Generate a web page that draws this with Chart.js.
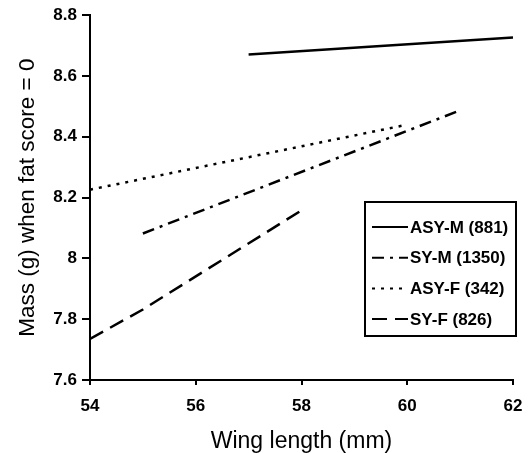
<!DOCTYPE html>
<html>
<head>
<meta charset="utf-8">
<script src="https://cdn.jsdelivr.net/npm/chart.js@4"></script>
<style>
  html, body { margin: 0; padding: 0; background: #fff; }
  #wrap { width: 530px; height: 453px; }
</style>
</head>
<body>
<div id="wrap"><canvas id="c" width="530" height="453"></canvas></div>
<script>
const seriesNames = ["ASY-M (881)", "SY-M (1350)", "ASY-F (342)", "SY-F (826)"];
const asyM = [{ x: 57, y: 8.671 }, { x: 62, y: 8.727 }];
const syM = [{ x: 55, y: 8.082 }, { x: 61, y: 8.487 }];
const asyF = [{ x: 54, y: 8.226 }, { x: 60, y: 8.44 }];
const syF = [{ x: 54, y: 7.735 }, { x: 55, y: 7.832 }, { x: 58, y: 8.158 }];
const xTicks = [54, 56, 58, 60, 62];
const yTicks = [7.6, 7.8, 8, 8.2, 8.4, 8.6, 8.8];

const dashes = [[], [12, 6, 3, 6], [3, 6], [15, 8]];
const FONT = "'Liberation Sans', Arial, sans-serif";

// legend box with a border, drawn on the canvas
const boxLegend = {
  id: "boxLegend",
  afterDraw(chart) {
    const ctx = chart.ctx;
    const x0 = 365, y0 = 202, w = 151, h = 134;
    ctx.save();
    ctx.fillStyle = "#fff";
    ctx.fillRect(x0, y0, w, h);
    ctx.strokeStyle = "#000";
    ctx.lineWidth = 2;
    ctx.strokeRect(x0, y0, w, h);
    ctx.font = "bold 17px " + FONT;
    ctx.textBaseline = "middle";
    ctx.fillStyle = "#000";
    chart.data.datasets.forEach((ds, i) => {
      const y = y0 + 25 + i * 30.7;
      ctx.setLineDash(ds.borderDash || []);
      ctx.lineWidth = 2;
      ctx.beginPath();
      ctx.moveTo(x0 + 7, y);
      ctx.lineTo(x0 + 43, y);
      ctx.stroke();
      ctx.setLineDash([]);
      ctx.fillText(ds.label, x0 + 45, y + 1);
    });
    ctx.restore();
  },
};

const datasets = [asyM, syM, asyF, syF].map((pts, i) => ({
  label: seriesNames[i],
  data: pts,
  borderColor: "#000",
  borderWidth: 2.5,
  borderDash: dashes[i],
  pointRadius: 0,
  fill: false,
  tension: 0,
}));

new Chart(document.getElementById("c"), {
  type: "line",
  data: { datasets },
  plugins: [boxLegend],
  options: {
    responsive: false,
    animation: false,
    layout: { padding: { left: 0, top: 15, right: 17, bottom: 0 } },
    plugins: { legend: { display: false }, tooltip: { enabled: false } },
    scales: {
      x: {
        type: "linear",
        min: 54,
        max: 62,
        afterBuildTicks: (s) => { s.ticks = xTicks.map((v) => ({ value: v })); },
        afterFit: (s) => { s.height = 73; s.paddingRight = 0; },
        grid: { drawOnChartArea: false, drawTicks: true, tickLength: 5, color: "#000", lineWidth: 2 },
        border: { color: "#000", width: 2 },
        ticks: { color: "#000", font: { family: FONT, size: 17, weight: "bold" }, padding: 11 },
        title: { display: true, text: "Wing length (mm)", color: "#000", font: { family: FONT, size: 23, lineHeight: 1 }, padding: { top: 4, bottom: 0 } },
      },
      y: {
        type: "linear",
        min: 7.6,
        max: 8.8,
        afterBuildTicks: (s) => { s.ticks = yTicks.map((v) => ({ value: v })); },
        afterFit: (s) => { s.width = 90; },
        grid: { drawOnChartArea: false, drawTicks: true, tickLength: 8, color: "#000", lineWidth: 2 },
        border: { color: "#000", width: 2 },
        ticks: { color: "#000", font: { family: FONT, size: 17, weight: "bold" }, padding: 5, callback: (v) => String(v) },
        title: { display: true, text: "Mass (g) when fat score = 0", color: "#000", font: { family: FONT, size: 22.5 }, padding: { top: 14 } },
      },
    },
  },
});
</script>
</body>
</html>
